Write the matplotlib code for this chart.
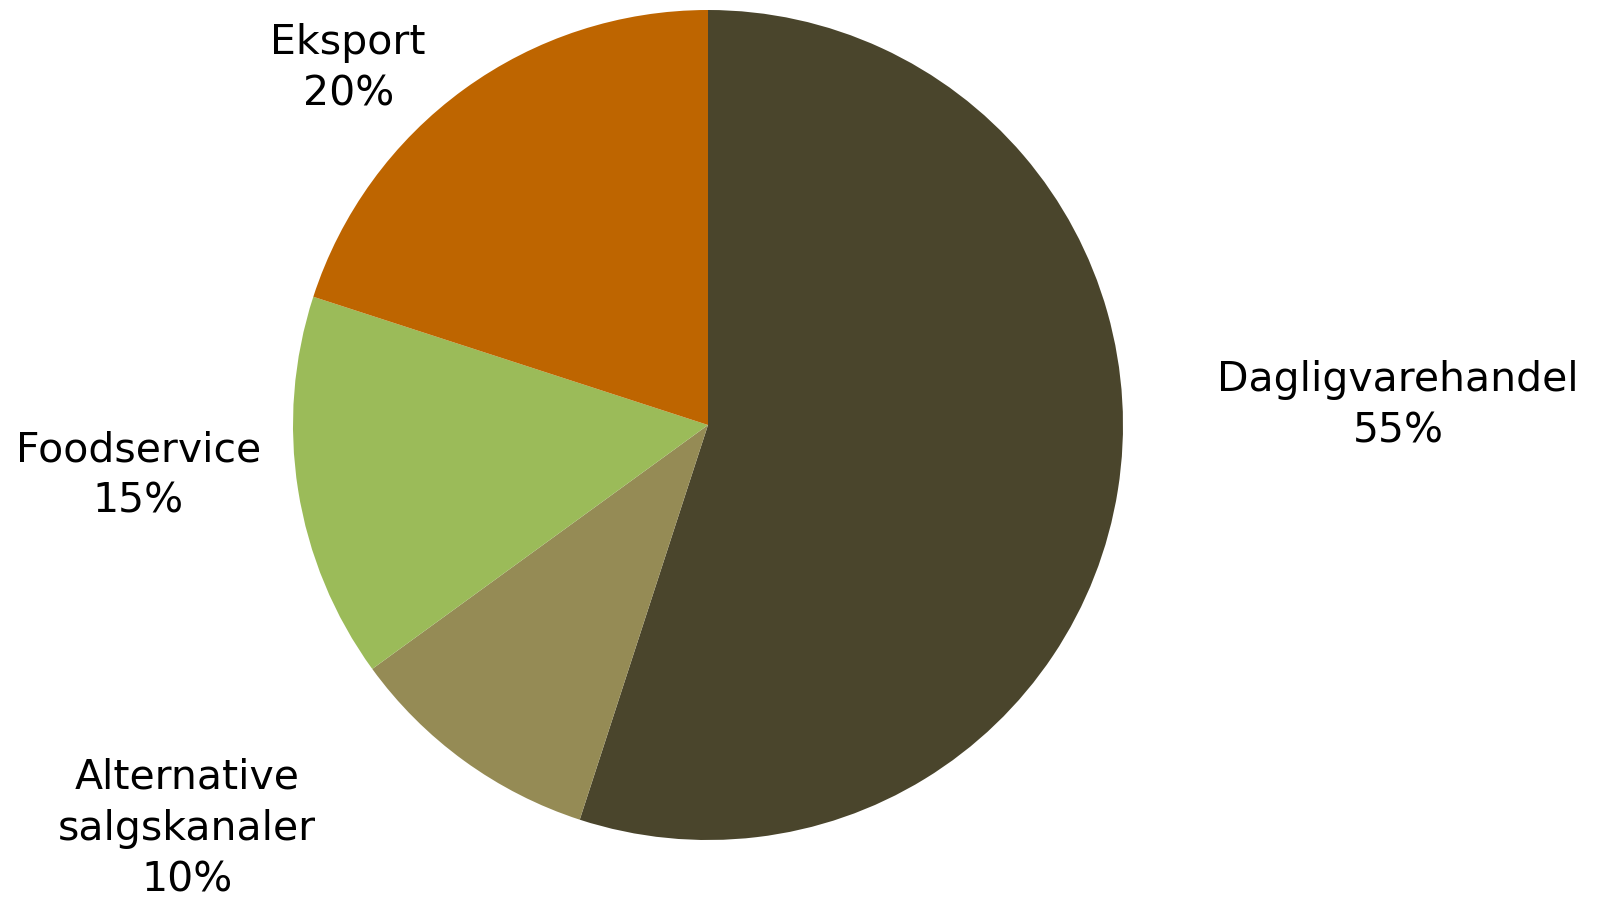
import matplotlib.pyplot as plt

# data
categories = ["Dagligvarehandel", "Alternative\nsalgskanaler", "Foodservice", "Eksport"]
shares = [55, 10, 15, 20]
colors = ["#4A452C", "#958B55", "#9BBB59", "#BE6500"]

# label placement (radius units, relative to pie centre)
label_pos = [(1.663, 0.046), (-1.255, -0.973), (-1.373, -0.123), (-0.867, 0.858)]

W, H = 1600, 899
cx, cy, r = 708, 425, 415

fig = plt.figure(figsize=(W / 100, H / 100), dpi=100, facecolor="white")
ax = fig.add_axes([0, 0, 1, 1])
ax.pie(shares, colors=colors, startangle=90, counterclock=False, radius=1,
       wedgeprops=dict(linewidth=0))
ax.set_xlim(-cx / r, (W - cx) / r)
ax.set_ylim(-(H - cy) / r, cy / r)
ax.set_aspect("equal")
ax.axis("off")

for cat, val, (lx, ly) in zip(categories, shares, label_pos):
    ax.text(lx, ly, f"{cat}\n{val}%", ha="center", va="center",
            fontsize=29.5, family="DejaVu Sans", linespacing=1.38, color="black")

fig.savefig("out.png", dpi=100)
